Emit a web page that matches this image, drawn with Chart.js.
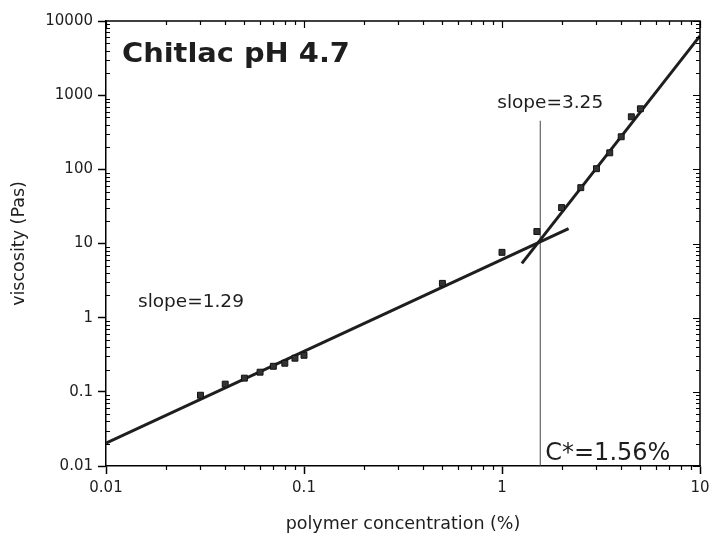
<!DOCTYPE html>
<html><head><meta charset="utf-8">
<script src="https://cdn.jsdelivr.net/npm/chart.js@4"></script>
<style>html,body{margin:0;padding:0;background:#fff}</style>
</head><body>
<canvas id="c" width="711" height="538"></canvas>
<script>
// ---- data ----
const concentration = [0.03,0.04,0.05,0.06,0.07,0.08,0.09,0.1,0.5,1.0,1.5,2.0,2.5,3.0,3.5,4.0,4.5,5.0];
const viscosity     = [0.090,0.127,0.153,0.184,0.221,0.243,0.284,0.311,2.9,7.6,14.5,30.5,56.6,102,167,275,511,655];
const fitDiluteX = [0.01, 2.17];
const fitDiluteY = [0.0204, 15.9];
const fitSemiX = [1.26, 10];
const fitSemiY = [5.4, 6300];
const cStarX = [1.56, 1.56];
const cStarY = [0.01, 452];
const xTickValues = [0.01, 0.1, 1, 10];
const yTickValues = [0.01, 0.1, 1, 10, 100, 1000, 10000];
const chartTitle = 'Chitlac pH 4.7';
const xTitle = 'polymer concentration (%)';
const yTitle = 'viscosity (Pas)';
const annotations = [
  {text: 'slope=3.25', x: 1.56, y: 452, dx: -43, dy: -13, size: 18.5},
  {text: 'slope=1.29', x: 0.01, y: 1, dx: 32, dy: -11, size: 18.5},
  {text: 'C*=1.56%', x: 1.56, y: 0.01, dx: 5, dy: -6, size: 24}
];

const zip = (a, b) => a.map((v, i) => ({x: v, y: b[i]}));
const INK = '#1e1e1e';

const framePlugin = {
  id: 'frame',
  beforeDraw(chart) {
    const ctx = chart.ctx;
    ctx.save(); ctx.fillStyle = '#fff'; ctx.fillRect(0, 0, chart.width, chart.height); ctx.restore();
  },
  afterDraw(chart) {
    const {ctx, chartArea: a, scales: {x, y}} = chart;
    ctx.save();
    ctx.strokeStyle = '#000';
    ctx.lineWidth = 1.5;
    ctx.beginPath();
    ctx.moveTo(a.left, a.top); ctx.lineTo(a.right, a.top); ctx.lineTo(a.right, a.bottom);
    ctx.stroke();
    ctx.lineWidth = 1.2;
    const minors = (lo, hi) => {
      const out = [];
      for (let e = Math.round(Math.log10(lo)); e < Math.round(Math.log10(hi)); e++)
        for (let m = 2; m <= 9; m++) out.push(m * Math.pow(10, e));
      return out;
    };
    ctx.beginPath();
    minors(x.min, x.max).forEach(v => {
      const p = Math.round(x.getPixelForValue(v)) + 0.5;
      ctx.moveTo(p, a.bottom); ctx.lineTo(p, a.bottom + 4);
      ctx.moveTo(p, a.top); ctx.lineTo(p, a.top + 4);
    });
    xTickValues.forEach(v => {
      const p = Math.round(x.getPixelForValue(v)) + 0.5;
      ctx.moveTo(p, a.top); ctx.lineTo(p, a.top + 7);
    });
    minors(y.min, y.max).forEach(v => {
      const p = Math.round(y.getPixelForValue(v)) + 0.5;
      ctx.moveTo(a.left, p); ctx.lineTo(a.left + 4, p);
      ctx.moveTo(a.right, p); ctx.lineTo(a.right - 4, p);
    });
    yTickValues.forEach(v => {
      const p = Math.round(y.getPixelForValue(v)) + 0.5;
      ctx.moveTo(a.right, p); ctx.lineTo(a.right - 7, p);
    });
    ctx.stroke();
    // texts
    ctx.fillStyle = INK;
    ctx.textBaseline = 'alphabetic';
    ctx.textAlign = 'left';
    ctx.save();
    ctx.translate(a.left + 16, a.top + 41);
    ctx.scale(1.11, 1);
    ctx.font = 'bold 26px "DejaVu Sans"';
    ctx.fillText(chartTitle, 0, 0);
    ctx.restore();
    annotations.forEach(t => {
      ctx.font = t.size + 'px "DejaVu Sans"';
      ctx.fillText(t.text, x.getPixelForValue(t.x) + t.dx, y.getPixelForValue(t.y) + t.dy);
    });
    ctx.restore();
  }
};

const axisCommon = (ticksArr, titleText, isY) => ({
  type: 'logarithmic',
  min: ticksArr[0],
  max: ticksArr[ticksArr.length - 1],
  afterBuildTicks: s => { s.ticks = ticksArr.map(v => ({value: v})); },
  afterFit: s => {
    if (isY) { s.width = 106; s.paddingTop = 0; s.paddingBottom = 0; }
    else { s.height = 72; s.paddingRight = 0; s.paddingLeft = 0; }
  },
  border: {display: true, color: '#000', width: 1.5},
  grid: {display: true, drawOnChartArea: false, drawTicks: true, tickLength: 8, tickColor: '#000', tickWidth: 1.5},
  ticks: {
    autoSkip: false, maxRotation: 0, color: INK,
    padding: 5,
    font: {family: '"DejaVu Sans"', size: 15},
    callback: v => String(v)
  },
  title: {
    display: true, text: titleText, color: INK,
    font: {family: '"DejaVu Sans"', size: 17.5},
    padding: isY ? {top: 9, bottom: 0} : {top: 0, bottom: 3}
  }
});

new Chart(document.getElementById('c'), {
  type: 'scatter',
  data: {
    datasets: [
      {label: 'data', data: zip(concentration, viscosity), pointStyle: 'rect', pointRadius: 4.2,
       backgroundColor: '#333', borderColor: '#111', borderWidth: 1, order: 0},
      {label: 'fit1', type: 'line', data: zip(fitDiluteX, fitDiluteY), borderColor: INK, borderWidth: 3,
       pointRadius: 0, fill: false, order: 1},
      {label: 'fit2', type: 'line', data: zip(fitSemiX, fitSemiY), borderColor: INK, borderWidth: 3,
       pointRadius: 0, fill: false, order: 1},
      {label: 'cstar', type: 'line', data: zip(cStarX, cStarY), borderColor: '#444', borderWidth: 1,
       pointRadius: 0, fill: false, order: 2}
    ]
  },
  options: {
    responsive: false, animation: false, devicePixelRatio: 1,
    layout: {padding: {left: 0, right: 11, top: 21, bottom: 0}},
    plugins: {legend: {display: false}, tooltip: {enabled: false}},
    scales: {
      x: axisCommon(xTickValues, xTitle, false),
      y: axisCommon(yTickValues, yTitle, true)
    }
  },
  plugins: [framePlugin]
});
</script>
</body></html>
